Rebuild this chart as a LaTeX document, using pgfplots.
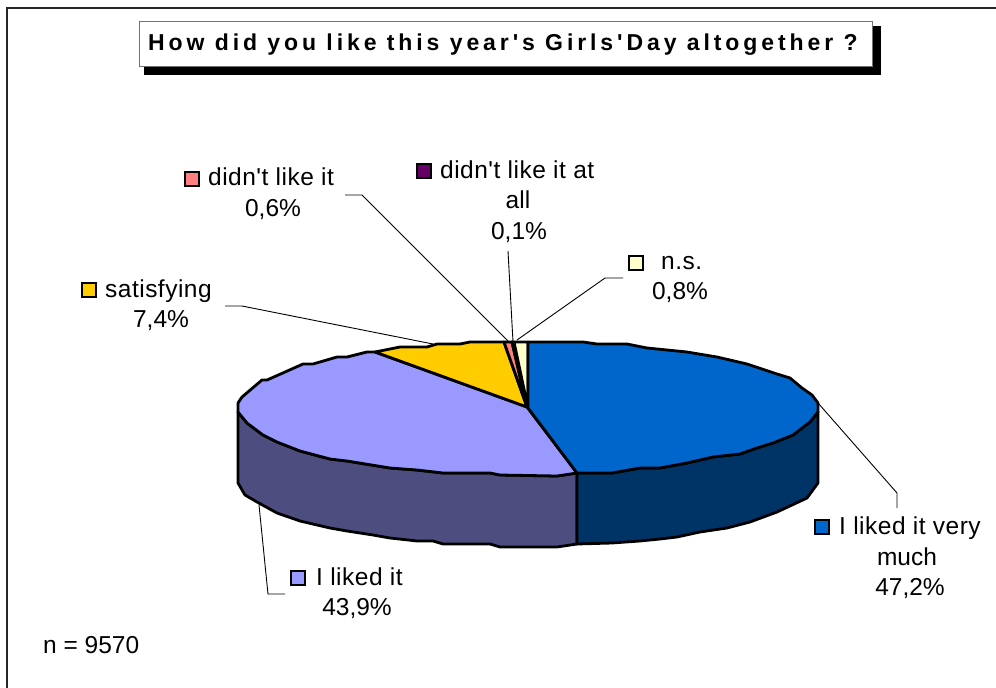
\documentclass[border=0pt]{standalone}
\usepackage{pgfplots}
\pgfplotsset{compat=1.18}
\usepackage{fontspec}
\setmainfont{Liberation Sans}
\newfontfamily\titlefont[LetterSpace=17]{Liberation Sans}
\newfontfamily\wordfont[LetterSpace=2]{Liberation Sans}

\definecolor{cblue}{HTML}{0066CC}
\definecolor{cbluedark}{HTML}{003366}
\definecolor{cperi}{HTML}{9999FF}
\definecolor{cperidark}{HTML}{4D4D80}
\definecolor{cyellow}{HTML}{FFCC00}
\definecolor{cpink}{HTML}{FF8080}
\definecolor{cpurple}{HTML}{660066}
\definecolor{ccream}{HTML}{FFFFCC}

\pgfplotsset{
    slice/.style={draw=black, line width=2.8pt, line join=round},
    leader/.style={draw=black, line width=0.9pt},
    key/.style={only marks, mark=square*, mark size=7pt,
        mark options={draw=black, line width=2.2pt, fill=#1}},
}
\tikzset{
    lab/.style={font=\fontsize{24.5}{28}\selectfont, anchor=base, inner sep=0pt},
    labl/.style={font=\wordfont\fontsize{24.5}{28}\selectfont, anchor=base west, inner sep=0pt},
}

\begin{document}
\begin{tikzpicture}
\begin{axis}[
    scale only axis,
    width=996pt,
    height=688pt,
    xmin=0, xmax=996,
    ymin=0, ymax=688,
    y dir=reverse,
    hide axis,
]
% page background and frame
\addplot[fill=white, draw=none] coordinates {(0,0) (996,0) (996,688) (0,688)} --cycle;
\addplot[draw=black!85, line width=1.2pt] coordinates {(7,688) (7,8) (996,8)};

% title box with shadow
\addplot[fill=black, draw=none] coordinates {(144,26) (881,26) (881,75) (144,75)} --cycle;
\addplot[fill=white, draw=black!55, line width=1pt] coordinates {(139,21) (872,21) (872,66) (139,66)} --cycle;

% side walls
\addplot[slice, fill=cperidark] coordinates {
    (238,412) (247,423) (263,435) (277,442) (300,451) (330,459) (347,461)
    (390,468) (417,470) (443,473) (490,473) (500,475) (557,476) (577,473)
    (577,544) (557,547) (500,547) (490,544) (443,544) (433,541) (417,541)
    (390,538) (373,535) (347,531) (330,528) (300,521) (277,513) (257,502)
    (245,495) (238,483)} --cycle;
\addplot[slice, fill=cbluedark] coordinates {
    (577,473) (612,473) (640,468) (660,468) (687,463) (713,457) (740,454)
    (757,448) (773,443) (793,435) (810,422) (818,412)
    (818,483) (807,498) (777,512) (750,522) (727,528) (700,532) (677,537)
    (660,539) (640,541) (612,543) (577,544)} --cycle;

% top faces
\addplot[slice, fill=cperi] coordinates {
    (527,407) (375,352) (367,352) (347,357) (337,357) (313,364) (303,364)
    (267,380) (262,380) (242,397) (238,403) (238,412)
    (247,423) (263,435) (277,442) (300,451) (330,459) (347,461)
    (390,468) (417,470) (443,473) (490,473) (500,475) (557,476) (577,473)} --cycle;
\addplot[slice, fill=cyellow] coordinates {
    (527,407) (375,352) (400,347) (427,347) (437,344) (460,344) (470,342)
    (504,342)} --cycle;
\addplot[slice, fill=cpink] coordinates {(527,407) (504,342) (512,342)} --cycle;
\addplot[slice, fill=cpurple] coordinates {(527,407) (512,342) (514,342)} --cycle;
\addplot[slice, fill=ccream] coordinates {(528,408) (514,342) (528,342)} --cycle;
\addplot[slice, fill=cblue] coordinates {
    (528,408) (528,342) (583,342) (597,344) (627,344) (647,348) (687,352)
    (717,357) (747,364) (777,374) (790,378) (802,388) (812,395) (818,403)
    (818,412) (810,422) (793,435) (773,443) (757,448) (740,454) (713,457)
    (687,463) (660,468) (640,468) (612,473) (577,473)} --cycle;

% leader lines
\addplot[leader] coordinates {(345,195) (362,195) (510,343)};
\addplot[leader] coordinates {(225,306) (242,306) (433,344)};
\addplot[leader] coordinates {(508,251) (513,342)};
\addplot[leader] coordinates {(623,278) (605,278) (517,340)};
\addplot[leader] coordinates {(818,403) (897,493) (897,508)};
\addplot[leader] coordinates {(259,505) (268,594) (285,594)};

% legend keys
\addplot[key=cpink] coordinates {(192,179)};
\addplot[key=cpurple] coordinates {(424,171)};
\addplot[key=cyellow] coordinates {(89,290)};
\addplot[key=ccream] coordinates {(636,263)};
\addplot[key=cperi] coordinates {(298,578)};
\addplot[key=cblue] coordinates {(822,527)};

% text
\node[anchor=base west, inner sep=0pt, font=\titlefont\bfseries\fontsize{23}{27}\selectfont]
    at (axis cs:148,50) {How did you like this year's Girls'Day altogether ?};

\node[labl] at (axis cs:208,185) {didn't like it};
\node[lab] at (axis cs:273,216) {0,6\%};
\node[labl] at (axis cs:440,178) {didn't like it at};
\node[lab] at (axis cs:518,208) {all};
\node[lab] at (axis cs:519,239) {0,1\%};
\node[labl] at (axis cs:105,297) {satisfying};
\node[lab] at (axis cs:161,327) {7,4\%};
\node[labl] at (axis cs:661,269) {n.s.};
\node[lab] at (axis cs:680,299) {0,8\%};
\node[labl] at (axis cs:316,585) {I liked it};
\node[lab] at (axis cs:357,615) {43,9\%};
\node[labl] at (axis cs:839,534) {I liked it very};
\node[lab] at (axis cs:907,565) {much};
\node[lab] at (axis cs:910,595) {47,2\%};
\node[anchor=base west, inner sep=0pt, font=\fontsize{24.5}{28}\selectfont] at (axis cs:43,653) {n = 9570};
\end{axis}
\end{tikzpicture}
\end{document}
